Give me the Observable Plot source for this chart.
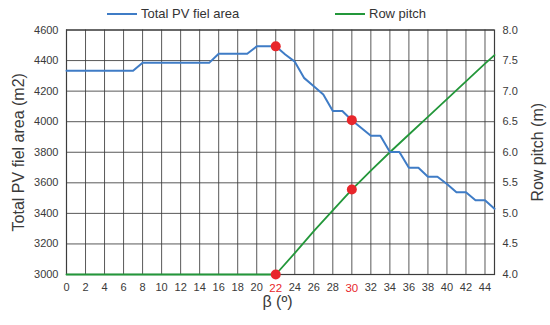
<!DOCTYPE html>
<html>
<head>
<meta charset="utf-8">
<script src="https://cdn.jsdelivr.net/npm/d3@7"></script>
<script src="https://cdn.jsdelivr.net/npm/@observablehq/plot@0.6"></script>
<style>
  html, body { margin: 0; padding: 0; background: #fff; }
  #wrap { position: relative; width: 550px; height: 325px; font-family: "Liberation Sans", Arial, sans-serif; color: #333; }
  #legend { position: relative; height: 25px; width: 550px; font-size: 13px; }
  .item { position: absolute; top: 6px; display: flex; align-items: center; white-space: nowrap; }
  .swatch { display: inline-block; width: 30px; height: 2px; margin-right: 4px; }
</style>
</head>
<body>
<div id="wrap">
  <div id="legend"></div>
  <div id="chart"></div>
</div>
<script>
// ---- data ----
const betaDeg = [0,1,2,3,4,5,6,7,8,9,10,11,12,13,14,15,16,17,18,19,20,21,22,23,24,25,26,27,28,29,30,31,32,33,34,35,36,37,38,39,40,41,42,43,44,45];
const pvArea = [4333,4333,4333,4333,4333,4333,4333,4333,
                4385,4385,4385,4385,4385,4385,4385,4385,
                4445,4445,4445,4445,
                4493,4493,4493,4440,4393,4285,4232,4178,4070,4070,
                4010,3958,3908,3908,3802,3802,3698,3698,3640,3640,
                3592,3538,3538,3486,3486,3430];
const pitchBeta = [0,22,24,26,28,30,32,34,36,38,40,42,44,45];
const rowPitch  = [4.0,4.0,4.35,4.71,5.05,5.39,5.70,6.0,6.29,6.58,6.87,7.16,7.45,7.59];
const highlightBeta = [22, 30];
const xTicks = [0,2,4,6,8,10,12,14,16,18,20,22,24,26,28,30,32,34,36,38,40,42,44];
const yTicks = [3000,3200,3400,3600,3800,4000,4200,4400,4600];
const seriesNames = ["Total PV fiel area", "Row pitch"];
const colors = {area: "#3f7cc6", pitch: "#23973a", red: "#e8262b", text: "#3a3a3a", grid: "#3c3c3c"};

// map right-axis (row pitch, 4..8 m) onto left-axis units (3000..4600 m2)
const toLeft = p => 3000 + (p - 4) * 400;
const toRight = v => 4 + (v - 3000) / 400;

const areaData = betaDeg.map((b, i) => ({b, v: pvArea[i]}));
const pitchData = pitchBeta.map((b, i) => ({b, v: toLeft(rowPitch[i])}));
const dots = [
  ...highlightBeta.map(b => ({b, v: pvArea[betaDeg.indexOf(b)]})),
  ...highlightBeta.map(b => ({b, v: toLeft(rowPitch[pitchBeta.indexOf(b)])}))
];

// legend (HTML, above the SVG)
const legend = document.getElementById("legend");
[[seriesNames[0], colors.area, 107], [seriesNames[1], colors.pitch, 335]].forEach(([name, c, left]) => {
  const it = document.createElement("div");
  it.className = "item";
  it.style.left = left + "px";
  const sw = document.createElement("span");
  sw.className = "swatch";
  sw.style.background = c;
  const tx = document.createElement("span");
  tx.textContent = name;
  it.appendChild(sw); it.appendChild(tx);
  legend.appendChild(it);
});

const plainX = xTicks.filter(t => !highlightBeta.includes(t));

const chart = Plot.plot({
  width: 550,
  height: 300,
  marginTop: 4.5,
  marginBottom: 51,
  marginLeft: 66,
  marginRight: 56,
  style: {fontFamily: "'Liberation Sans', Arial, sans-serif", color: colors.text, background: "#fff", overflow: "visible"},
  x: {domain: [0, 45]},
  y: {domain: [3000, 4600]},
  marks: [
    Plot.gridX(xTicks, {stroke: colors.grid, strokeOpacity: 0.85, strokeWidth: 1}),
    Plot.gridY(yTicks, {stroke: colors.grid, strokeOpacity: 0.85, strokeWidth: 1}),
    Plot.frame({stroke: colors.grid, strokeWidth: 1.2}),
    Plot.line(pitchData, {x: "b", y: "v", stroke: colors.pitch, strokeWidth: 1.8}),
    Plot.line(areaData, {x: "b", y: "v", stroke: colors.area, strokeWidth: 2}),
    Plot.dot(dots, {x: "b", y: "v", r: 5, fill: colors.red, stroke: "none"}),
    Plot.axisY(yTicks, {anchor: "left", tickSize: 0, tickPadding: 8, fontSize: 11, label: null, tickFormat: d => String(d)}),
    Plot.axisY(yTicks, {anchor: "right", tickSize: 0, tickPadding: 8, fontSize: 11, label: null, tickFormat: d => toRight(d).toFixed(1)}),
    Plot.axisX(plainX, {anchor: "bottom", tickSize: 0, tickPadding: 9, fontSize: 11, label: null, tickFormat: d => String(d)}),
    Plot.axisX(highlightBeta, {anchor: "bottom", tickSize: 0, tickPadding: 9, fontSize: 11.5, label: null, fill: colors.red, tickFormat: d => String(d)}),
    Plot.text(["Total PV fiel area (m2)"], {frameAnchor: "left", textAnchor: "middle", rotate: -90, dx: -48, fontSize: 16, fill: colors.text}),
    Plot.text(["Row pitch (m)"], {frameAnchor: "right", textAnchor: "middle", rotate: -90, dx: 43, fontSize: 16, fill: colors.text}),
    Plot.text(["β (º)"], {frameAnchor: "bottom", textAnchor: "middle", dy: 32, dx: -3, fontSize: 16, fill: colors.text})
  ]
});
document.getElementById("chart").appendChild(chart);
</script>
</body>
</html>
